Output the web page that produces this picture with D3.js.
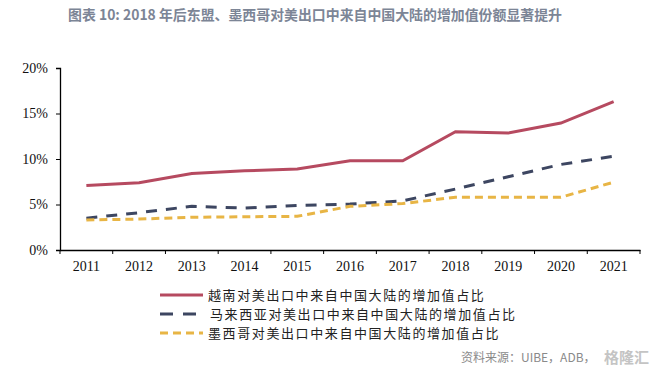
<!DOCTYPE html>
<html>
<head>
<meta charset="utf-8">
<script src="https://cdn.jsdelivr.net/npm/d3@7"></script>
<style>
  body { margin: 0; background: #fff; }
</style>
</head>
<body>
<div id="plot"></div>
<script>
// data
const years = ["2011", "2012", "2013", "2014", "2015", "2016", "2017", "2018", "2019", "2020", "2021"];
const vietnam = [7.1, 7.4, 8.4, 8.7, 8.9, 9.8, 9.8, 13.0, 12.85, 13.95, 16.3];
const malaysia = [3.5, 4.1, 4.8, 4.6, 4.9, 5.05, 5.4, 6.7, 8.05, 9.4, 10.3];
const mexico = [3.3, 3.4, 3.6, 3.65, 3.7, 4.8, 5.1, 5.8, 5.8, 5.8, 7.45];
const yTicks = [0, 5, 10, 15, 20];

const seriesNames = ["越南对美出口中来自中国大陆的增加值占比",
                     "马来西亚对美出口中来自中国大陆的增加值占比",
                     "墨西哥对美出口中来自中国大陆的增加值占比"];

const w = 671;
const h = 373;
const margin = {top: 68, right: 31, bottom: 123, left: 60};
const innerWidth = w - margin.left - margin.right;
const innerHeight = h - margin.top - margin.bottom;

const series = [
  {name: seriesNames[0], values: vietnam, color: "#b64a60", dash: null},
  {name: seriesNames[1], values: malaysia, color: "#3d4661", dash: "11,9"},
  {name: seriesNames[2], values: mexico, color: "#e8b545", dash: "8,5"}
];

const xScale = d3.scaleBand()
    .domain(years)
    .range([0, innerWidth]);

const yScale = d3.scaleLinear()
    .domain([0, 20])
    .range([innerHeight, 0]);

const svg = d3.select("#plot")
  .append("svg")
    .attr("width", w)
    .attr("height", h);

svg.append("rect")
    .attr("width", w)
    .attr("height", h)
    .attr("fill", "#fff");

// title
svg.append("text")
    .attr("x", 68)
    .attr("y", 20)
    .attr("fill", "#7c8596")
    .attr("font-family", "'Noto Sans CJK SC', sans-serif")
    .attr("font-weight", "bold")
    .attr("font-size", 14)
    .attr("textLength", 494)
    .attr("lengthAdjust", "spacingAndGlyphs")
    .text("图表 10: 2018 年后东盟、墨西哥对美出口中来自中国大陆的增加值份额显著提升");

const g = svg.append("g")
    .attr("transform", `translate(${margin.left}, ${margin.top})`);

// axes
const yAxis = d3.axisLeft(yScale)
    .tickValues(yTicks)
    .tickFormat(d => d + "%")
    .tickSize(4)
    .tickPadding(8);

const yG = g.append("g")
    .attr("class", "yAxis")
    .call(yAxis);

const xAxis = d3.axisBottom(xScale)
    .tickSize(0)
    .tickPadding(11);

const xG = g.append("g")
    .attr("class", "xAxis")
    .attr("transform", `translate(0, ${innerHeight})`)
    .call(xAxis);

// ticks sit on the band edges
xG.selectAll(".tick").append("line")
    .attr("x1", -xScale.bandwidth() / 2)
    .attr("x2", -xScale.bandwidth() / 2)
    .attr("y2", 4)
    .attr("stroke", "#000");
xG.append("line")
    .attr("x1", innerWidth)
    .attr("x2", innerWidth)
    .attr("y2", 4)
    .attr("stroke", "#000");

[yG, xG].forEach(a => {
  a.select(".domain").attr("stroke", "#000").attr("stroke-width", 1.3);
  a.selectAll(".tick line").attr("stroke", "#000");
  a.selectAll("text")
      .attr("fill", "#111")
      .attr("font-family", "'Liberation Serif', serif")
      .attr("font-size", 14);
});

// lines
const line = d3.line()
    .x((d, i) => xScale(years[i]) + xScale.bandwidth() / 2)
    .y(d => yScale(d));

g.selectAll(".series")
    .data(series)
  .enter().append("path")
    .attr("class", "series")
    .attr("d", d => line(d.values))
    .attr("fill", "none")
    .attr("stroke", d => d.color)
    .attr("stroke-width", 3)
    .attr("stroke-dasharray", d => d.dash);

// legend
const legend = svg.append("g")
    .attr("transform", "translate(160, 295)");

const item = legend.selectAll(".item")
    .data(series)
  .enter().append("g")
    .attr("class", "item")
    .attr("transform", (d, i) => `translate(0, ${i * 19})`);

item.append("line")
    .attr("x1", 0)
    .attr("x2", 43)
    .attr("stroke", d => d.color)
    .attr("stroke-width", 3)
    .attr("stroke-dasharray", (d, i) => i === 1 ? "13,10" : d.dash);

item.append("text")
    .attr("x", (d, i) => i === 1 ? 50 : 48)
    .attr("y", 5)
    .attr("fill", "#222")
    .attr("font-family", "'Noto Sans CJK SC', sans-serif")
    .attr("font-size", 13)
    .attr("letter-spacing", 1.6)
    .text(d => d.name);

// source
svg.append("text")
    .attr("x", 461)
    .attr("y", 362)
    .attr("fill", "#8a8a8a")
    .attr("font-family", "'Noto Sans CJK SC', sans-serif")
    .attr("font-size", 12)
    .text("资料来源：UIBE，ADB，");

svg.append("text")
    .attr("x", 604)
    .attr("y", 363)
    .attr("fill", "#c4c4c4")
    .attr("font-family", "'Noto Sans CJK SC', sans-serif")
    .attr("font-size", 15)
    .attr("font-weight", "bold")
    .text("格隆汇");
</script>
</body>
</html>
